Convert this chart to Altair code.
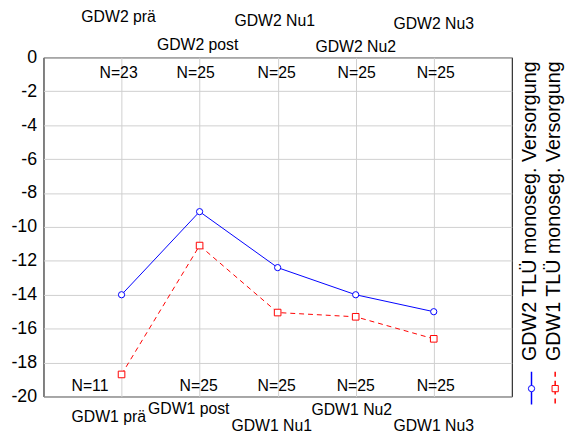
import altair as alt
import pandas as pd

# ---- data ----
categories_top = ["GDW2 prä", "GDW2 post", "GDW2 Nu1", "GDW2 Nu2", "GDW2 Nu3"]
categories_bottom = ["GDW1 prä", "GDW1 post", "GDW1 Nu1", "GDW1 Nu2", "GDW1 Nu3"]
n_top = ["N=23", "N=25", "N=25", "N=25", "N=25"]
n_bottom = ["N=11", "N=25", "N=25", "N=25", "N=25"]
gdw2_values = [-14.0, -9.1, -12.4, -14.0, -15.0]
gdw1_values = [-18.7, -11.1, -15.05, -15.3, -16.6]
series_names = ["GDW2 TLÜ monoseg. Versorgung", "GDW1 TLÜ monoseg. Versorgung"]
y_ticks = list(range(-20, 1, 2))
positions = [1, 2, 3, 4, 5]

# ---- styling ----
FONT = "Liberation Sans"
W, H = 475, 344
BLUE = "#0000ff"
RED = "#ff0000"

xs = alt.Scale(domain=[0, 6], nice=False, zero=False)
ys = alt.Scale(domain=[-20, 0], nice=False, zero=False)

df = pd.DataFrame({"pos": positions, "gdw2": gdw2_values, "gdw1": gdw1_values,
                   "top": categories_top, "bottom": categories_bottom,
                   "ntop": n_top, "nbottom": n_bottom})

x_ax = alt.Axis(values=positions, labels=False, ticks=False, domain=False,
                grid=True, title=None)
y_ax = alt.Axis(values=y_ticks, title=None, labelFontSize=18, labelFont=FONT,
                labelColor="black", ticks=False, labelPadding=7, domain=False,
                grid=True, labelExpr="'' + datum.value")
x_enc = alt.X("pos:Q", scale=xs, axis=x_ax)


def y_enc(field):
    return alt.Y(f"{field}:Q", scale=ys, axis=y_ax)


base = alt.Chart(df)

blue_line = base.mark_line(color=BLUE, strokeWidth=1).encode(x=x_enc, y=y_enc("gdw2"))
red_line = base.mark_line(color=RED, strokeWidth=1, strokeDash=[5, 4]).encode(
    x=x_enc, y=y_enc("gdw1"))
blue_pts = base.mark_point(shape="circle", filled=True, fill="white", stroke=BLUE,
                           size=40, strokeWidth=1, opacity=1).encode(
    x=x_enc, y=y_enc("gdw2"))
red_pts = base.mark_point(shape="square", filled=True, fill="white", stroke=RED,
                          size=45, strokeWidth=1, opacity=1).encode(
    x=x_enc, y=y_enc("gdw1"))

layers = [blue_line, red_line, blue_pts, red_pts]

# category labels above/below the plot (staggered), per-label offsets
top_y = [14, 43, 18, 45, 21]          # px from page top
top_dx = [-3, -2, -3, 0, 0]
bottom_y = [420, 412, 429, 413, 429]
bottom_dx = [-13, -11, -6, -4, 0]
ntop_dx = [-3, -4, -1, 1, 2]
nbottom_dx = [-32, -1, -1, 0, 2]
PLOT_TOP = 55

for i in range(5):
    row = alt.Chart(df.iloc[[i]])
    common = dict(font=FONT, fontSize=16, color="black", baseline="middle", align="center")
    layers.append(row.mark_text(dx=top_dx[i], **common).encode(
        x=x_enc, y=alt.value(top_y[i] - PLOT_TOP), text="top:N"))
    layers.append(row.mark_text(dx=bottom_dx[i], **common).encode(
        x=x_enc, y=alt.value(bottom_y[i] - PLOT_TOP), text="bottom:N"))
    layers.append(row.mark_text(dx=ntop_dx[i], **common).encode(
        x=x_enc, y=alt.value(71 - PLOT_TOP), text="ntop:N"))
    layers.append(row.mark_text(dx=nbottom_dx[i], **common).encode(
        x=x_enc, y=alt.value(388 - PLOT_TOP), text="nbottom:N"))

# manual legend (rotated)
leg = pd.DataFrame({"name": series_names})
leg_x = [494, 518]
leg_colors = [BLUE, RED]
leg_shapes = ["circle", "square"]
leg_dash = [[1, 0], [5, 4]]
for i in range(2):
    one = alt.Chart(leg.iloc[[i]])
    layers.append(one.mark_text(font=FONT, fontSize=20, color="black", angle=270,
                                align="left", baseline="middle").encode(
        x=alt.value(leg_x[i]), y=alt.value(308), text="name:N"))
    layers.append(one.mark_rule(color=leg_colors[i], strokeWidth=1.5,
                                strokeDash=leg_dash[i]).encode(
        x=alt.value(leg_x[i] + 1), y=alt.value(319), y2=alt.value(352)))
    layers.append(one.mark_point(shape=leg_shapes[i], filled=True, fill="white",
                                 stroke=leg_colors[i], size=40, strokeWidth=1,
                                 opacity=1).encode(
        x=alt.value(leg_x[i] + 1), y=alt.value(336)))

chart = alt.layer(*layers).properties(
    width=W, height=H,
    padding={"left": 36, "top": 47, "right": 56, "bottom": 35},
    autosize=alt.AutoSizeParams(type="none"),
    background="white",
).configure_view(stroke="black", strokeWidth=1).configure_axis(
    gridColor="#cfcfcf", gridWidth=1
)

chart.save("out.html", embed_options={"renderer": "svg", "actions": False})
